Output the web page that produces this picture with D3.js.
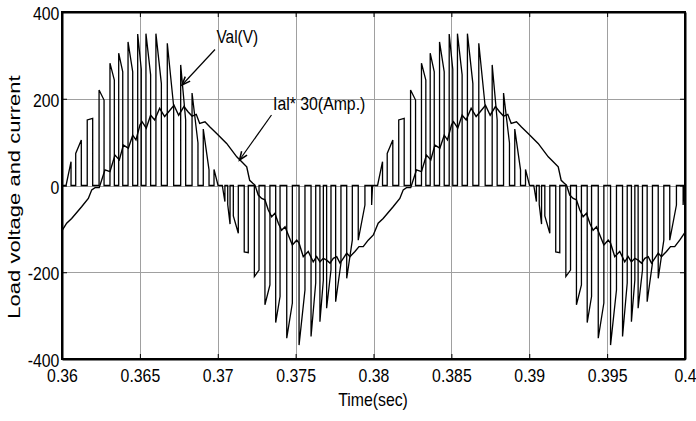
<!DOCTYPE html>
<html>
<head>
<meta charset="utf-8">
<script src="https://cdn.jsdelivr.net/npm/d3@7"></script>
<style>
  html, body { margin: 0; padding: 0; background: #fff; }
  svg { display: block; }
  text { font-family: "Liberation Sans", Arial, Helvetica, sans-serif; fill: #000; }
</style>
</head>
<body>
<svg id="chart" width="696" height="421"></svg>
<script>
// Axis ticks
const xTicks = [0.36, 0.365, 0.37, 0.375, 0.38, 0.385, 0.39, 0.395, 0.4];
const xTickLabels = ["0.36", "0.365", "0.37", "0.375", "0.38", "0.385", "0.39", "0.395", "0.4"];
const yTicks = [-400, -200, 0, 200, 400];
const yTickLabels = ["-400", "-200", "0", "200", "400"];

// Load voltage pulses: [switch-on time, level at switch-on, switch-off time, level at switch-off]
const voltagePulses = [
  [0.36026, 0, 0.36058, 55],
  [0.36088, 74, 0.36124, 105],
  [0.36162, 151, 0.36197, 155],
  [0.36238, 220, 0.36270, 197],
  [0.36308, 282, 0.36336, 243],
  [0.36364, 305, 0.36390, 262],
  [0.36424, 331, 0.36454, 262],
  [0.36486, 349, 0.36509, 268],
  [0.36539, 350, 0.36569, 255],
  [0.36603, 350, 0.36638, 235],
  [0.36676, 328, 0.36717, 182],
  [0.36762, 278, 0.36794, 151],
  [0.36835, 213, 0.36873, 98],
  [0.36907, 130, 0.36944, 36],
  [0.36976, 37, 0.37002, 0],
  [0.37029, 0, 0.37046, -37],
  [0.37064, -44, 0.37079, -89],
  [0.37100, -70, 0.37132, -110],
  [0.37170, -153, 0.37196, -155],
  [0.37235, -210, 0.37265, -195],
  [0.37303, -275, 0.37335, -229],
  [0.37372, -316, 0.37400, -256],
  [0.37443, -352, 0.37479, -271],
  [0.37522, -368, 0.37560, -241],
  [0.37599, -348, 0.37629, -225],
  [0.37656, -314, 0.37678, -218],
  [0.37699, -283, 0.37727, -195],
  [0.37757, -268, 0.37791, -179],
  [0.37828, -214, 0.37864, -126],
  [0.37902, -126, 0.37945, -45],
  [0.37988, -45, 0.37994, 0],
  [0.38026, 0, 0.38058, 55],
  [0.38088, 74, 0.38124, 105],
  [0.38162, 151, 0.38197, 155],
  [0.38238, 220, 0.38270, 197],
  [0.38308, 282, 0.38336, 243],
  [0.38364, 305, 0.38390, 262],
  [0.38424, 331, 0.38454, 262],
  [0.38486, 349, 0.38509, 268],
  [0.38539, 350, 0.38569, 255],
  [0.38603, 350, 0.38638, 235],
  [0.38676, 328, 0.38717, 182],
  [0.38762, 278, 0.38794, 151],
  [0.38835, 213, 0.38873, 98],
  [0.38907, 130, 0.38944, 36],
  [0.38976, 37, 0.39002, 0],
  [0.39029, 0, 0.39046, -37],
  [0.39064, -44, 0.39079, -89],
  [0.39100, -70, 0.39132, -110],
  [0.39170, -153, 0.39196, -155],
  [0.39235, -210, 0.39265, -195],
  [0.39303, -275, 0.39335, -229],
  [0.39372, -316, 0.39400, -256],
  [0.39443, -352, 0.39479, -271],
  [0.39522, -368, 0.39560, -241],
  [0.39599, -348, 0.39629, -225],
  [0.39656, -314, 0.39678, -218],
  [0.39699, -283, 0.39727, -195],
  [0.39757, -268, 0.39791, -179],
  [0.39828, -214, 0.39864, -126],
  [0.39902, -126, 0.39945, -45],
  [0.39988, -45, 0.39994, 0]
];

// Load current scaled by 30: [time, value]
const currentSamples = [
  [0.36000, -104], [0.36030, -87], [0.36062, -76], [0.36126, -49], [0.36169, -30],
  [0.36191, -10], [0.36212, -5], [0.36239, -5], [0.36276, 36], [0.36308, 32],
  [0.36340, 70], [0.36368, 59], [0.36394, 93], [0.36426, 86], [0.36454, 116],
  [0.36475, 105], [0.36501, 140], [0.36514, 147], [0.36541, 132], [0.36569, 162],
  [0.36595, 151], [0.36627, 178], [0.36659, 159], [0.36685, 170], [0.36719, 185],
  [0.36749, 162], [0.36783, 182], [0.36809, 170], [0.36835, 160], [0.36862, 164],
  [0.36884, 143], [0.36918, 147], [0.36950, 135], [0.36993, 120], [0.37057, 97],
  [0.37122, 66], [0.37154, 55], [0.37186, 43], [0.37205, 12], [0.37225, 5],
  [0.37239, 1], [0.37260, -22], [0.37282, -30], [0.37303, -33], [0.37324, -56],
  [0.37346, -72], [0.37367, -64], [0.37389, -87], [0.37410, -103], [0.37432, -95],
  [0.37453, -114], [0.37479, -137], [0.37507, -126], [0.37522, -133], [0.37549, -164],
  [0.37581, -152], [0.37613, -176], [0.37635, -164], [0.37656, -176], [0.37678, -168],
  [0.37699, -172], [0.37721, -179], [0.37742, -168], [0.37764, -164], [0.37785, -179],
  [0.37806, -168], [0.37828, -156], [0.37849, -164], [0.37881, -152], [0.37907, -141],
  [0.37934, -141], [0.37966, -126], [0.37999, -114],
  [0.38030, -87], [0.38062, -76], [0.38126, -49], [0.38169, -30],
  [0.38191, -10], [0.38212, -5], [0.38239, -5], [0.38276, 36], [0.38308, 32],
  [0.38340, 70], [0.38368, 59], [0.38394, 93], [0.38426, 86], [0.38454, 116],
  [0.38475, 105], [0.38501, 140], [0.38514, 147], [0.38541, 132], [0.38569, 162],
  [0.38595, 151], [0.38627, 178], [0.38659, 159], [0.38685, 170], [0.38719, 185],
  [0.38749, 162], [0.38783, 182], [0.38809, 170], [0.38835, 160], [0.38862, 164],
  [0.38884, 143], [0.38918, 147], [0.38950, 135], [0.38993, 120], [0.39057, 97],
  [0.39122, 66], [0.39154, 55], [0.39186, 43], [0.39205, 12], [0.39225, 5],
  [0.39239, 1], [0.39260, -22], [0.39282, -30], [0.39303, -33], [0.39324, -56],
  [0.39346, -72], [0.39367, -64], [0.39389, -87], [0.39410, -103], [0.39432, -95],
  [0.39453, -114], [0.39479, -137], [0.39507, -126], [0.39522, -133], [0.39549, -164],
  [0.39581, -152], [0.39613, -176], [0.39635, -164], [0.39656, -176], [0.39678, -168],
  [0.39699, -172], [0.39721, -179], [0.39742, -168], [0.39764, -164], [0.39785, -179],
  [0.39806, -168], [0.39828, -156], [0.39849, -164], [0.39881, -152], [0.39907, -141],
  [0.39934, -141], [0.39966, -126], [0.40000, -108]
];

const svg = d3.select("#chart");
const plot = { left: 62, right: 685, top: 12, bottom: 359 };
const x = d3.scaleLinear().domain([0.36, 0.4]).range([plot.left, plot.right]);
const y = d3.scaleLinear().domain([-400, 400]).range([plot.bottom, plot.top]);
const textSX = 0.88; // condensed glyph width

// Grid
const grid = svg.append("g").attr("stroke", "#a0a0a0").attr("stroke-width", 1);
grid.selectAll("line.gx").data(xTicks.slice(1, -1)).join("line")
  .attr("x1", d => Math.round(x(d)) + 0.5).attr("x2", d => Math.round(x(d)) + 0.5)
  .attr("y1", plot.top).attr("y2", plot.bottom);
grid.selectAll("line.gy").data(yTicks.slice(1, -1)).join("line")
  .attr("y1", d => Math.round(y(d)) + 0.5).attr("y2", d => Math.round(y(d)) + 0.5)
  .attr("x1", plot.left).attr("x2", plot.right);

// Voltage trace built from the pulse list
const vPts = [[0.36, 0]];
voltagePulses.forEach(([t0, v0, t1, v1]) => {
  vPts.push([t0, 0], [t0, v0], [t1, v1], [t1, 0]);
});
vPts.push([0.4, 0]);
const line = d3.line().x(d => x(d[0])).y(d => y(d[1]));
svg.append("path").attr("d", line(vPts))
  .attr("fill", "none").attr("stroke", "#000").attr("stroke-width", 1.3)
  .attr("stroke-linejoin", "miter");

// Current trace
svg.append("path").attr("d", line(currentSamples))
  .attr("fill", "none").attr("stroke", "#000").attr("stroke-width", 1.4);

// Axes with inward ticks
const fmtX = d => xTickLabels[xTicks.indexOf(d)];
const fmtY = d => yTickLabels[yTicks.indexOf(d)];
const axB = svg.append("g").attr("transform", `translate(0,${plot.bottom})`)
  .call(d3.axisBottom(x).tickValues(xTicks).tickFormat(fmtX).tickSizeInner(-5).tickSizeOuter(0).tickPadding(10));
const axT = svg.append("g").attr("transform", `translate(0,${plot.top})`)
  .call(d3.axisTop(x).tickValues(xTicks).tickFormat("").tickSizeInner(-5).tickSizeOuter(0));
const axL = svg.append("g").attr("transform", `translate(${plot.left},0)`)
  .call(d3.axisLeft(y).tickValues(yTicks).tickFormat(fmtY).tickSizeInner(-5).tickSizeOuter(0).tickPadding(3));
const axR = svg.append("g").attr("transform", `translate(${plot.right},0)`)
  .call(d3.axisRight(y).tickValues(yTicks).tickFormat("").tickSizeInner(-5).tickSizeOuter(0));
[axB, axT, axL, axR].forEach(a => {
  a.select(".domain").attr("stroke", "#000").attr("stroke-width", 2);
  a.selectAll(".tick line").attr("stroke", "#000").attr("stroke-width", 1);
  a.selectAll("text").attr("font-size", 18).attr("fill", "#000")
    .attr("font-family", "Liberation Sans, Arial, sans-serif");
});
axB.selectAll(".tick text").attr("dy", "0.71em").attr("transform", `scale(${textSX},1)`);
axL.selectAll(".tick text").attr("dy", "0.42em").attr("transform", `scale(${textSX},1)`);

// Frame
svg.append("rect").attr("x", plot.left).attr("y", plot.top)
  .attr("width", plot.right - plot.left).attr("height", plot.bottom - plot.top)
  .attr("fill", "none").attr("stroke", "#000").attr("stroke-width", 2);

// Axis titles
svg.append("text").attr("transform", `translate(373,406) scale(${textSX},1)`)
  .attr("text-anchor", "middle").attr("font-size", 18).text("Time(sec)");
svg.append("text").attr("transform", `translate(20,197) rotate(-90) scale(1,0.74)`)
  .attr("text-anchor", "middle").attr("font-size", 22).text("Load voltage and current");

// Annotations
function arrow(x1, y1, x2, y2) {
  const g = svg.append("g").attr("stroke", "#000").attr("stroke-width", 1.2).attr("fill", "none");
  g.append("line").attr("x1", x1).attr("y1", y1).attr("x2", x2).attr("y2", y2);
  const a = Math.atan2(y2 - y1, x2 - x1), L = 9, w = 0.38;
  g.append("path").attr("d",
    `M${x2 - L * Math.cos(a - w)},${y2 - L * Math.sin(a - w)}L${x2},${y2}L${x2 - L * Math.cos(a + w)},${y2 - L * Math.sin(a + w)}`)
    .attr("stroke-width", 1.5);
}
svg.append("text").attr("transform", `translate(216.5,42.5) scale(${textSX},1)`)
  .attr("font-size", 17.5).text("Val(V)");
arrow(215, 49.5, 182, 85);
svg.append("text").attr("transform", `translate(273,110) scale(${textSX},1)`)
  .attr("font-size", 18).text("Ial* 30(Amp.)");
arrow(271.5, 115, 239.5, 160);
</script>
</body>
</html>
